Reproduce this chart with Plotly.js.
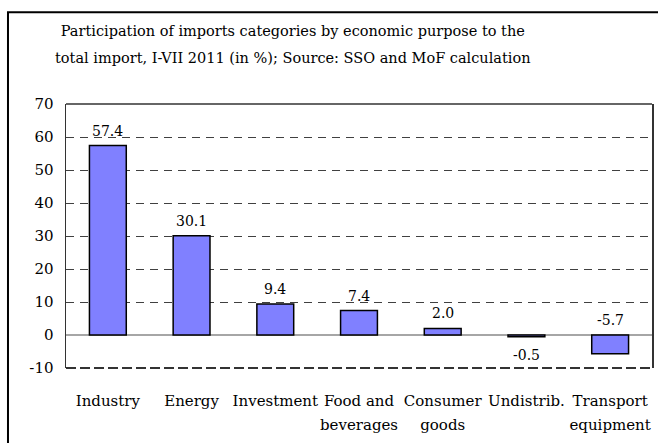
<!DOCTYPE html>
<html>
<head>
<meta charset="utf-8">
<script src="https://cdn.plot.ly/plotly-3.0.1.min.js"></script>
<style>html,body{margin:0;padding:0;background:#fff;}#chart{width:658px;height:443px;}</style>
</head>
<body>
<div id="chart"></div>
<script>
var categories = ["Industry", "Energy", "Investment", "Food and<br>beverages", "Consumer<br>goods", "Undistrib.", "Transport<br>equipment"];
var values = [57.4, 30.1, 9.4, 7.4, 2.0, -0.5, -5.7];
var valueLabels = ["57.4", "30.1", "9.4", "7.4", "2.0", "-0.5", "-5.7"];
var labelAbove = [true, true, true, true, true, false, true];
var yTicks = [-10, 0, 10, 20, 30, 40, 50, 60, 70];
var titleLines = ["Participation of imports categories by economic purpose to the",
                  "total import, I-VII 2011 (in %); Source: SSO and MoF calculation"];

var FONT = "DejaVu Serif";

function sized(text, px) {
  return text.split("<br>").map(function (s) {
    return '<span style="font-size:' + px + 'px">' + s + '</span>';
  }).join("<br>");
}

var annotations = values.map(function (v, i) {
  return {
    x: categories[i], xref: "x",
    y: labelAbove[i] ? Math.max(v, 0) : v, yref: "y",
    text: valueLabels[i], showarrow: false,
    yanchor: labelAbove[i] ? "bottom" : "top",
    yshift: labelAbove[i] ? 5 : -8,
    font: {family: FONT, size: 14, color: "#000"}
  };
});

var trace = {
  type: "bar",
  x: categories,
  y: values,
  marker: {color: "#8080FF", line: {color: "#000", width: 1.5}},
  hoverinfo: "none"
};

var layout = {
  width: 658, height: 443,
  margin: {l: 66, r: 6, t: 104, b: 75, autoexpand: false},
  paper_bgcolor: "#fff", plot_bgcolor: "#fff",
  showlegend: false,
  bargap: 0.56,
  font: {family: FONT, size: 15, color: "#000"},
  title: {
    text: sized(titleLines.join("<br>"), 14.5),
    font: {family: FONT, size: 20.8, color: "#000"},
    xref: "paper", x: 0.387, xanchor: "center",
    yref: "container", y: 0.918, yanchor: "middle"
  },
  xaxis: {
    type: "category",
    tickvals: categories,
    ticktext: categories.map(function (c) { return sized(c, 15); }),
    tickangle: 0,
    showgrid: false, showline: false, zeroline: false,
    ticks: "",
    tickfont: {family: FONT, size: 18.5, color: "#000"},
    ticklabelstandoff: 18
  },
  yaxis: {
    range: [-10, 70],
    tickvals: yTicks,
    ticktext: yTicks.map(String),
    showgrid: true, gridcolor: "#404040", gridwidth: 1, griddash: "8px,6px",
    zeroline: true, zerolinecolor: "#A6A6A6", zerolinewidth: 2,
    showline: true, linecolor: "#333", linewidth: 1.5, mirror: true,
    ticks: "",
    tickfont: {family: FONT, size: 15, color: "#000"},
    ticklabelstandoff: 8
  },
  annotations: annotations,
  shapes: [
    {type: "line", xref: "paper", yref: "paper", x0: 0, x1: 1, y0: 1, y1: 1,
     line: {color: "#333", width: 1.5}},
    {type: "line", xref: "paper", yref: "paper", x0: 0, x1: 1, y0: 0, y1: 0,
     line: {color: "#333", width: 2, dash: "10px,4px"}},
    {type: "rect", xref: "paper", yref: "paper", x0: -0.099, x1: 1.2, y0: -0.5, y1: 1.348,
     line: {color: "#000", width: 2}, fillcolor: "rgba(0,0,0,0)", layer: "above"}
  ]
};

Plotly.newPlot("chart", [trace], layout, {staticPlot: true, displayModeBar: false});
</script>
</body>
</html>
